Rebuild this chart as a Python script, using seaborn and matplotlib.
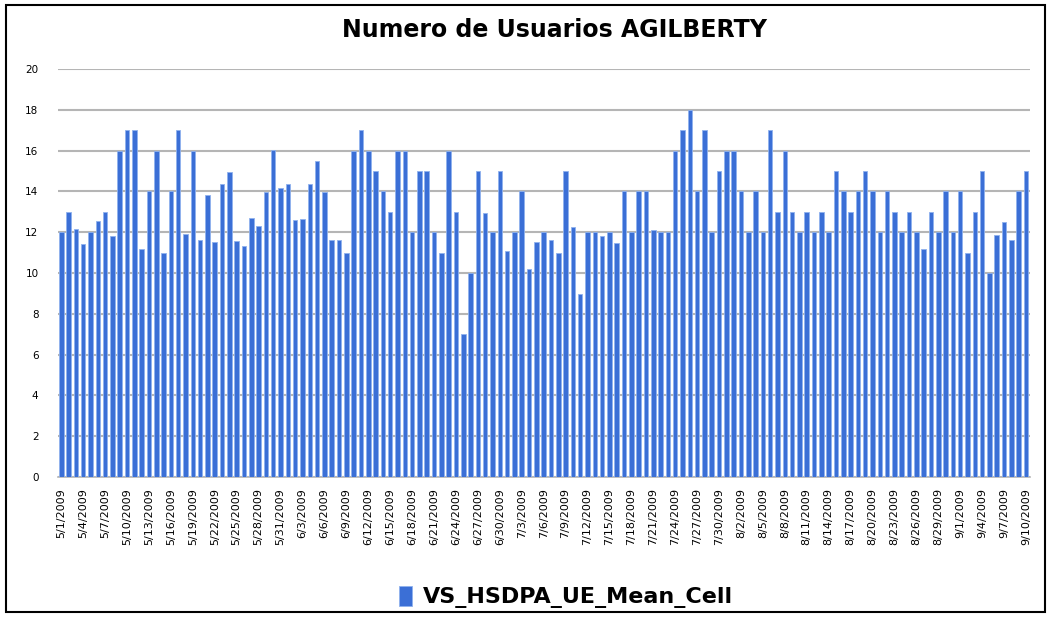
import matplotlib
matplotlib.use("Agg")
import matplotlib.pyplot as plt
import seaborn as sns
import pandas as pd
from matplotlib.patches import Rectangle

title = "Numero de Usuarios AGILBERTY"
series_name = "VS_HSDPA_UE_Mean_Cell"
dates = pd.date_range("2009-05-01", "2009-09-10", freq="D")
date_labels = [f"{d.month}/{d.day}/{d.year}" for d in dates]

values = [
    12.0, 13.0, 12.15, 11.4, 12.0, 12.55, 13.0, 11.8, 16, 17,
    17, 11.2, 14, 16, 11.0, 14, 17, 11.9, 16, 11.6,
    13.8, 11.5, 14.35, 14.95, 11.55, 11.3, 12.7, 12.3, 13.95, 16.05,
    14.15, 14.35, 12.6, 12.65, 14.35, 15.5, 13.95, 11.6, 11.6, 11.0,
    16, 17, 16, 15, 14, 13, 16, 16, 12, 15,
    15, 12, 11, 16, 13, 7, 10, 15, 12.95, 12,
    15, 11.1, 12, 14, 10.2, 11.5, 12, 11.6, 11, 15,
    12.25, 8.95, 12, 12, 11.8, 12, 11.45, 14, 12, 14,
    14, 12.1, 12, 12, 16, 17, 18, 14, 17, 12,
    15, 16, 16, 14, 12, 14, 12, 17, 13, 16,
    13, 12, 13, 12, 13, 12, 15, 14, 13, 14,
    15, 14, 12, 14, 13, 12, 13, 12, 11.2, 13,
    12, 14, 12, 14, 11, 13, 15, 10, 11.85, 12.5,
    11.6, 14, 15,
]
y_ticks = list(range(0, 21, 2))

df = pd.DataFrame({"date": date_labels, "value": values})

sns.set_theme(style="white")
plt.rcParams["font.family"] = ["DejaVu Sans"]

fig = plt.figure(figsize=(10.52, 6.17), dpi=100)
ax = fig.add_axes([58 / 1052, 1 - 477 / 617, (1030 - 58) / 1052, (477 - 69) / 617])

sns.barplot(data=df, x="date", y="value", color="#3b6fd6", width=0.62,
            saturation=1, edgecolor="#8fb2ee", linewidth=0.6,
            label=series_name, ax=ax, zorder=3)

ax.set_ylim(0, 20)
ax.set_xlim(-0.45, len(values) - 0.45)
ax.set_yticks(y_ticks)
ax.set_yticklabels([str(t) for t in y_ticks], fontsize=7.5, color="black")
ax.yaxis.grid(True, color="#b5b5b5", linewidth=1.5, zorder=0)
ax.set_axisbelow(True)
idx = list(range(0, len(date_labels), 3))
ax.set_xticks(idx)
ax.set_xticklabels([date_labels[i] for i in idx], rotation=90, fontsize=8,
                   color="black")
ax.tick_params(axis="x", length=0, pad=8)
ax.tick_params(axis="y", length=0, pad=14)
ax.set_xlabel("")
ax.set_ylabel("")
for s in ["top", "right", "left"]:
    ax.spines[s].set_visible(False)
ax.spines["bottom"].set_color("#b5b5b5")
ax.spines["bottom"].set_linewidth(1.2)
if ax.get_legend() is not None:
    ax.get_legend().remove()

fig.text(0.527, 1 - 30 / 617, title, ha="center", va="center", color="black",
         fontsize=17, fontweight="bold")

handles, labels = ax.get_legend_handles_labels()
leg = fig.legend(handles[:1], labels[:1], loc="center", bbox_to_anchor=(0.538, 1 - 597 / 617),
                 frameon=False, handlelength=0.6, handleheight=1.0, handletextpad=0.5,
                 prop={"size": 16, "weight": "bold"})
for t in leg.get_texts():
    t.set_color("black")

fig.patches.append(Rectangle((6 / 1052, 1 - 612 / 617), (1045 - 6) / 1052, (612 - 5) / 617,
                             transform=fig.transFigure, fill=False, edgecolor="black",
                             linewidth=1.5))

fig.savefig("out.png", dpi=100, facecolor="white")
